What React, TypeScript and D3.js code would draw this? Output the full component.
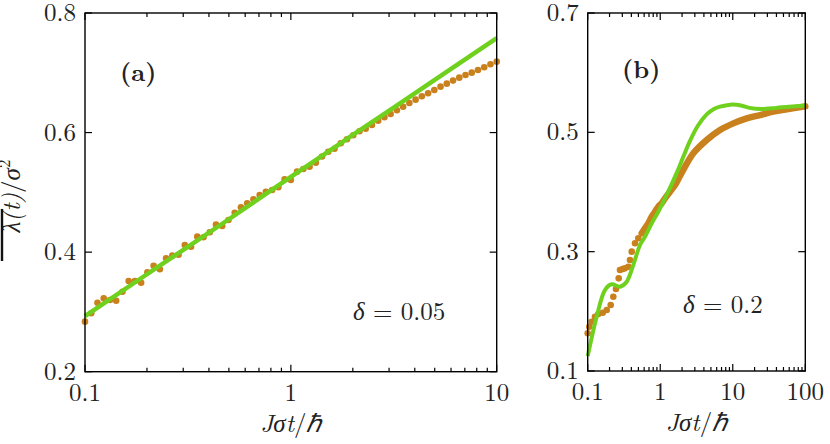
import React from "react";
import * as d3 from "d3";

// ---------- data ----------
// panel (a): delta = 0.05
const aDotValues = [
  0.2837, 0.2977, 0.3154, 0.3228, 0.32, 0.3188, 0.3338, 0.3517, 0.3517, 0.3489,
  0.3663, 0.3773, 0.3713, 0.3897, 0.3941, 0.3957, 0.412, 0.4091, 0.4259, 0.4249,
  0.4332, 0.446, 0.4437, 0.4538, 0.466, 0.475, 0.4817, 0.4884, 0.4956, 0.5011,
  0.504, 0.5085, 0.5219, 0.5207, 0.5346, 0.5391, 0.543, 0.5497, 0.56, 0.568,
  0.573, 0.5821, 0.5888, 0.5955, 0.6022, 0.6065, 0.6127, 0.6199, 0.6256, 0.6311,
  0.6373, 0.6433, 0.6495, 0.6551, 0.6607, 0.6658, 0.6713, 0.6768, 0.6818, 0.6869,
  0.6919, 0.6964, 0.7002, 0.7047, 0.7092, 0.7143, 0.7186,
];
const aLineT = [0.1, 0.2, 0.5, 1, 2, 5, 10];
const aLineV = [0.293, 0.363, 0.455, 0.526, 0.596, 0.688, 0.758];

// panel (b): delta = 0.2
const bDotT = [
  0.1, 0.105, 0.1135, 0.126, 0.14, 0.161, 0.183, 0.2075, 0.2254, 0.2455,
  0.2675, 0.2788, 0.3038, 0.3267, 0.363, 0.383, 0.4044, 0.449, 0.4985,
];
const bDotV = [
  0.1632, 0.1742, 0.1826, 0.191, 0.1955, 0.1977, 0.2022, 0.2106, 0.2245, 0.2374,
  0.2553, 0.2693, 0.271, 0.2721, 0.2748, 0.286, 0.3, 0.314, 0.3224,
];
const bBandT = [
  0.555, 0.6166, 0.6846, 0.763, 0.847, 0.94, 1.047, 1.164, 1.364,
  1.6, 1.873, 2.857, 4.37, 6.67, 10.17, 15.56, 23.8, 36.2, 55.4, 100,
];
const bBandV = [
  0.3308, 0.3392, 0.3475, 0.3586, 0.367, 0.3753, 0.381, 0.3894,
  0.4005, 0.4117, 0.427, 0.4648, 0.4871, 0.5039, 0.515, 0.5235, 0.529, 0.5346,
  0.5386, 0.5435,
];
const bLineT = [
  0.1, 0.133, 0.173, 0.214, 0.279, 0.345, 0.425, 0.526, 0.617, 0.763, 0.94, 1.228,
  1.687, 2.08, 2.58, 3.3, 4.37, 5.5, 6.67, 8.3, 10, 13, 17, 25, 40, 60, 100,
];
const bLineV = [
  0.125, 0.191, 0.2357, 0.2453, 0.2413, 0.2497, 0.2776, 0.3112, 0.325, 0.3475,
  0.367, 0.395, 0.432, 0.459, 0.486, 0.511, 0.53, 0.539, 0.543, 0.5455, 0.5465,
  0.545, 0.541, 0.539, 0.541, 0.543, 0.545,
];

const aYTicks = [0.2, 0.4, 0.6, 0.8];
const aXLabels = ["0.1", "1", "10"];
const bYTicks = [0.1, 0.3, 0.5, 0.7];
const bXLabels = ["0.1", "1", "10", "100"];

const ORANGE = "#C9811D";
const GREEN = "#6FD11E";
const FONT = "Latin Modern Roman";
const txt: React.CSSProperties = { fontFamily: FONT, fontSize: 25 };

type PanelProps = {
  x: d3.ScaleLogarithmic<number, number>;
  y: d3.ScaleLinear<number, number>;
  yTicks: number[];
  xLabels: string[];
};

function Axes({ x, y, yTicks, xLabels }: PanelProps) {
  const [x0, x1] = x.range();
  const [y0, y1] = y.range();
  const xt = x.ticks();
  const isMajor = (v: number) => Math.abs(Math.log10(v) - Math.round(Math.log10(v))) < 1e-6;
  const fmt = (v: number) => String(+v.toPrecision(3));
  return (
    <g>
      <rect x={x0} y={y1} width={x1 - x0} height={y0 - y1} fill="none" stroke="#000" strokeWidth={1.4} />
      {xt.map((v, i) => {
        const L = isMajor(v) ? 7 : 4;
        const px = x(v);
        return (
          <g key={i}>
            <line x1={px} x2={px} y1={y0} y2={y0 - L} stroke="#000" strokeWidth={1.2} />
            <line x1={px} x2={px} y1={y1} y2={y1 + L} stroke="#000" strokeWidth={1.2} />
          </g>
        );
      })}
      {xt.filter(isMajor).map((v, i) => (
        <text key={i} x={x(v)} y={y0 + 29} textAnchor="middle" style={txt} fill="#222">
          {xLabels.includes(fmt(v)) ? fmt(v) : ""}
        </text>
      ))}
      {yTicks.map((v, i) => (
        <g key={i}>
          <line x1={x0} x2={x0 + 7} y1={y(v)} y2={y(v)} stroke="#000" strokeWidth={1.2} />
          <line x1={x1} x2={x1 - 7} y1={y(v)} y2={y(v)} stroke="#000" strokeWidth={1.2} />
          <text x={x0 - 9} y={y(v) + 8} textAnchor="end" style={txt} fill="#222">
            {v.toFixed(1)}
          </text>
        </g>
      ))}
      <text x={(x0 + x1) / 2} y={y0 + 60} textAnchor="middle" style={txt} fill="#222">
        <tspan fontStyle="italic">Jσt</tspan>
        <tspan>/</tspan>
        <tspan fontStyle="italic">ℏ</tspan>
      </text>
    </g>
  );
}

export default function App() {
  const xa = d3.scaleLog().domain([0.1, 10]).range([85, 496.7]);
  const ya = d3.scaleLinear().domain([0.2, 0.8]).range([371.7, 13]);
  const xb = d3.scaleLog().domain([0.1, 100]).range([587.7, 805.3]);
  const yb = d3.scaleLinear().domain([0.1, 0.7]).range([371, 13]);

  const aT = d3.range(aDotValues.length).map((i) => 0.1 * Math.pow(100, i / (aDotValues.length - 1)));

  const lineA = d3
    .line<number>()
    .x((_, i) => xa(aLineT[i]))
    .y((v) => ya(v))
    .curve(d3.curveMonotoneX);
  const lineB = d3
    .line<number>()
    .x((_, i) => xb(bLineT[i]))
    .y((v) => yb(v))
    .curve(d3.curveCatmullRom);
  const bandB = d3
    .line<number>()
    .x((_, i) => xb(bBandT[i]))
    .y((v) => yb(v))
    .curve(d3.curveCatmullRom);

  return (
    <svg width={830} height={444} style={{ position: "absolute", left: 0, top: 0, background: "#fff" }}>
      {/* panel a */}
      <g>
        {aDotValues.map((v, i) => (
          <circle key={i} cx={xa(aT[i])} cy={ya(v)} r={3.3} fill={ORANGE} />
        ))}
        <path d={lineA(aLineV) || ""} fill="none" stroke={GREEN} strokeWidth={4.5} />
        <Axes x={xa} y={ya} yTicks={aYTicks} xLabels={aXLabels} />
        <text x={120} y={81} style={{ ...txt, fontWeight: "bold" }} fill="#222">(a)</text>
        <text x={353} y={320} style={txt} fill="#222">
          <tspan fontStyle="italic">δ</tspan> = 0.05
        </text>
      </g>
      {/* panel b */}
      <g>
        {bDotV.map((v, i) => (
          <circle key={i} cx={xb(bDotT[i])} cy={yb(v)} r={3.3} fill={ORANGE} />
        ))}
        <path d={bandB(bBandV) || ""} fill="none" stroke={ORANGE} strokeWidth={6.5} strokeLinecap="round" />
        <path d={lineB(bLineV) || ""} fill="none" stroke={GREEN} strokeWidth={4} />
        <Axes x={xb} y={yb} yTicks={bYTicks} xLabels={bXLabels} />
        <text x={622} y={78} style={{ ...txt, fontWeight: "bold" }} fill="#222">(b)</text>
        <text x={683} y={313} style={txt} fill="#222">
          <tspan fontStyle="italic">δ</tspan> = 0.2
        </text>
      </g>
      {/* y label */}
      <g transform="translate(20,196) rotate(-90)">
        <text textAnchor="middle" style={txt} fill="#222">
          <tspan fontStyle="italic">λ(t)</tspan>
          <tspan>/</tspan>
          <tspan fontStyle="italic">σ</tspan>
          <tspan dy={-10} fontSize={17}>2</tspan>
        </text>
        <line x1={-65} x2={-13} y1={-18} y2={-18} stroke="#111" strokeWidth={2.4} />
      </g>
    </svg>
  );
}
